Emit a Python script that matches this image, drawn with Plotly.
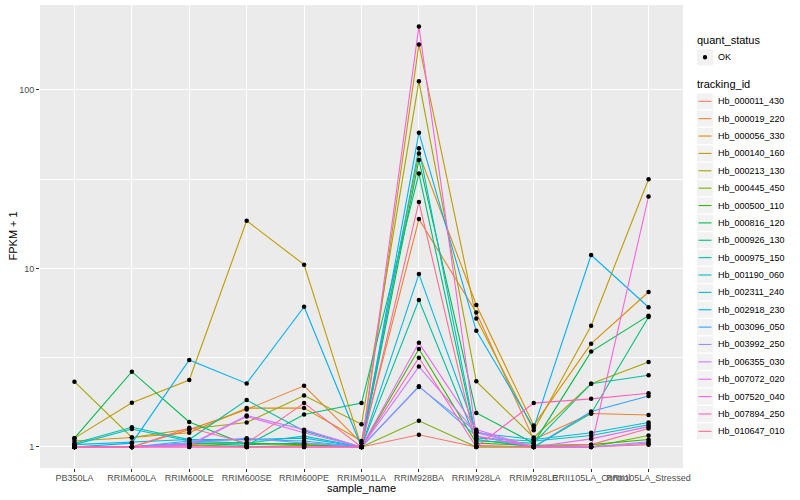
import plotly.graph_objects as go

# ---------------- data ----------------
samples = ["PB350LA", "RRIM600LA", "RRIM600LE", "RRIM600SE", "RRIM600PE", "RRIM901LA",
           "RRIM928BA", "RRIM928LA", "RRIM928LE", "RRII105LA_Control", "RRII105LA_Stressed"]

tracking_ids = ["Hb_000011_430", "Hb_000019_220", "Hb_000056_330", "Hb_000140_160",
                "Hb_000213_130", "Hb_000445_450", "Hb_000500_110", "Hb_000816_120",
                "Hb_000926_130", "Hb_000975_150", "Hb_001190_060", "Hb_002311_240",
                "Hb_002918_230", "Hb_003096_050", "Hb_003992_250", "Hb_006355_030",
                "Hb_007072_020", "Hb_007520_040", "Hb_007894_250", "Hb_010647_010"]

Hb_000011_430 = [1.0, 1.0, 1.02, 1.0, 1.0, 1.0, 1.17, 1.0, 1.0, 1.0, 1.03]
Hb_000019_220 = [1.0, 1.0, 1.25, 1.62, 2.2, 1.05, 18.9, 5.66, 1.1, 1.54, 1.51]
Hb_000056_330 = [1.08, 1.13, 1.2, 1.65, 1.65, 1.08, 44.0, 6.24, 1.32, 3.79, 7.38]
Hb_000140_160 = [1.12, 1.77, 2.37, 18.5, 10.5, 1.0, 180.0, 5.24, 1.24, 4.78, 31.6]
Hb_000213_130 = [2.32, 1.13, 1.26, 1.37, 1.94, 1.34, 112.0, 2.33, 1.13, 2.26, 2.99]
Hb_000445_450 = [1.0, 1.0, 1.03, 1.0, 1.02, 1.0, 1.40, 1.0, 1.0, 1.0, 1.16]
Hb_000500_110 = [1.0, 1.0, 1.05, 1.05, 1.03, 1.0, 3.54, 1.05, 1.02, 1.03, 1.10]
Hb_000816_120 = [1.12, 2.64, 1.38, 1.03, 1.05, 1.0, 40.5, 1.55, 1.05, 3.42, 5.44]
Hb_000926_130 = [1.0, 1.0, 1.05, 1.02, 1.52, 1.76, 34.0, 1.10, 1.0, 1.54, 5.35]
Hb_000975_150 = [1.05, 1.29, 1.1, 1.83, 1.23, 1.0, 6.66, 1.08, 1.05, 2.26, 2.52]
Hb_001190_060 = [1.03, 1.26, 1.08, 1.05, 1.15, 1.0, 47.1, 1.12, 1.08, 1.16, 1.33]
Hb_002311_240 = [1.03, 1.06, 1.1, 1.1, 1.12, 1.0, 9.3, 1.2, 1.1, 1.2, 1.37]
Hb_002918_230 = [1.0, 1.05, 3.07, 2.27, 6.1, 1.0, 57.6, 4.47, 1.28, 11.9, 6.06]
Hb_003096_050 = [1.0, 1.0, 1.08, 1.1, 1.08, 1.0, 2.19, 1.15, 1.0, 1.58, 1.93]
Hb_003992_250 = [1.0, 1.0, 1.05, 1.12, 1.05, 1.0, 2.17, 1.22, 1.0, 1.0, 1.07]
Hb_006355_030 = [1.0, 1.0, 1.03, 1.5, 1.25, 1.0, 2.82, 1.2, 1.0, 1.0, 1.05]
Hb_007072_020 = [1.0, 1.0, 1.02, 1.48, 1.2, 1.0, 3.83, 1.25, 1.0, 1.11, 1.30]
Hb_007520_040 = [1.0, 1.0, 1.0, 1.0, 1.0, 1.0, 227.0, 1.15, 1.0, 1.0, 25.3]
Hb_007894_250 = [1.0, 1.0, 1.0, 1.0, 1.0, 1.0, 3.16, 1.0, 1.76, 1.86, 2.0]
Hb_010647_010 = [1.0, 1.0, 1.28, 1.05, 1.76, 1.0, 23.6, 1.02, 1.0, 1.03, 1.27]

series = [Hb_000011_430, Hb_000019_220, Hb_000056_330, Hb_000140_160, Hb_000213_130,
          Hb_000445_450, Hb_000500_110, Hb_000816_120, Hb_000926_130, Hb_000975_150,
          Hb_001190_060, Hb_002311_240, Hb_002918_230, Hb_003096_050, Hb_003992_250,
          Hb_006355_030, Hb_007072_020, Hb_007520_040, Hb_007894_250, Hb_010647_010]

y_ticks = [1, 10, 100]
y_ticklabels = ["1", "10", "100"]
quant_status = "OK"

# ---------------- style ----------------
colors = ["#F8766D", "#EA8331", "#D89000", "#C09B00", "#A3A500", "#7CAE00", "#39B600",
          "#00BB4E", "#00BF7D", "#00C1A3", "#00BFC4", "#00BAE0", "#00B0F6", "#35A2FF",
          "#9590FF", "#C77CFF", "#E76BF3", "#FA62DB", "#FF62BC", "#FF6C91"]
FONT = "Liberation Sans, Arial, sans-serif"

W, H = 800, 500
ML, MR, MT, MB = 40, 117, 5, 32
PW, PH = W - ML - MR, H - MT - MB


def px2paper(x, y):
    return (x - ML) / PW, (H - MB - y) / PH


fig = go.Figure()

for name, vals, col in zip(tracking_ids, series, colors):
    fig.add_trace(go.Scatter(x=samples, y=vals, mode="lines", name=name,
                             line=dict(color=col, width=1.1), showlegend=False))

all_x, all_y = [], []
for vals in series:
    all_x += samples
    all_y += vals
fig.add_trace(go.Scatter(x=all_x, y=all_y, mode="markers", name=quant_status,
                         marker=dict(color="black", size=4.5), showlegend=False))

# ---------------- manual legend (ggplot style) ----------------
shapes = []
annotations = []

def add_text(x, y, text, size, color="black", xanchor="left", angle=0):
    px, py = px2paper(x, y)
    annotations.append(dict(x=px, y=py, xref="paper", yref="paper", text=text,
                            showarrow=False, xanchor=xanchor, yanchor="middle",
                            textangle=angle,
                            font=dict(family=FONT, size=size, color=color)))

def add_key(yc):
    x0, y0 = px2paper(697, yc - 8)
    x1, y1 = px2paper(713, yc + 8)
    shapes.append(dict(type="rect", xref="paper", yref="paper", x0=x0, x1=x1, y0=y0, y1=y1,
                       fillcolor="#F2F2F2", line=dict(width=0), layer="below"))

add_text(695, 40.5, "quant_status", 11)
add_key(57.3)
cx0, cy0 = px2paper(705 - 2.2, 57.3 + 2.2)
cx1, cy1 = px2paper(705 + 2.2, 57.3 - 2.2)
shapes.append(dict(type="circle", xref="paper", yref="paper", x0=cx0, x1=cx1, y0=cy0, y1=cy1,
                   fillcolor="black", line=dict(width=0), layer="above"))
add_text(716, 57.3, quant_status, 9)

add_text(695, 84.5, "tracking_id", 11)
for i, (name, col) in enumerate(zip(tracking_ids, colors)):
    yc = 101.3 + i * 17.37
    add_key(yc)
    lx0, ly = px2paper(698.5, yc)
    lx1, _ = px2paper(711.5, yc)
    shapes.append(dict(type="line", xref="paper", yref="paper", x0=lx0, x1=lx1, y0=ly, y1=ly,
                       line=dict(color=col, width=1.1), layer="above"))
    add_text(716, yc, name, 9)

# axis titles (ggplot positions)
add_text(ML + PW / 2, 488, "sample_name", 11, xanchor="center")
add_text(12, MT + PH / 2, "FPKM + 1", 11, xanchor="center", angle=-90)

fig.update_layout(
    width=W, height=H,
    margin=dict(l=ML, r=MR, t=MT, b=MB, autoexpand=False),
    paper_bgcolor="white",
    plot_bgcolor="#EBEBEB",
    showlegend=False,
    font=dict(family=FONT, size=9, color="#4D4D4D"),
    shapes=shapes,
    annotations=annotations,
    xaxis=dict(
        type="category", range=[-0.6, len(samples) - 0.4],
        showgrid=True, gridcolor="white", gridwidth=1.4,
        ticks="outside", ticklen=3, tickcolor="#333333", tickwidth=1,
        tickangle=0, tickfont=dict(family=FONT, size=9, color="#4D4D4D"),
        ticklabelstandoff=-2,
        zeroline=False, showline=False, automargin=False,
    ),
    yaxis=dict(
        type="log", range=[-0.118, 2.476],
        tickvals=y_ticks, ticktext=y_ticklabels,
        showgrid=True, gridcolor="white", gridwidth=1.4,
        ticks="outside", ticklen=3, tickcolor="#333333", tickwidth=1,
        tickfont=dict(family=FONT, size=9, color="#4D4D4D"),
        minor=dict(tickvals=[10 ** 0.5, 10 ** 1.5], showgrid=True, gridcolor="white",
                   gridwidth=0.7, ticks=""),
        zeroline=False, showline=False, automargin=False,
    ),
)

fig.write_html("out.html", config={"displayModeBar": False},
               post_script="document.body.style.margin='0';document.body.style.padding='0';")
